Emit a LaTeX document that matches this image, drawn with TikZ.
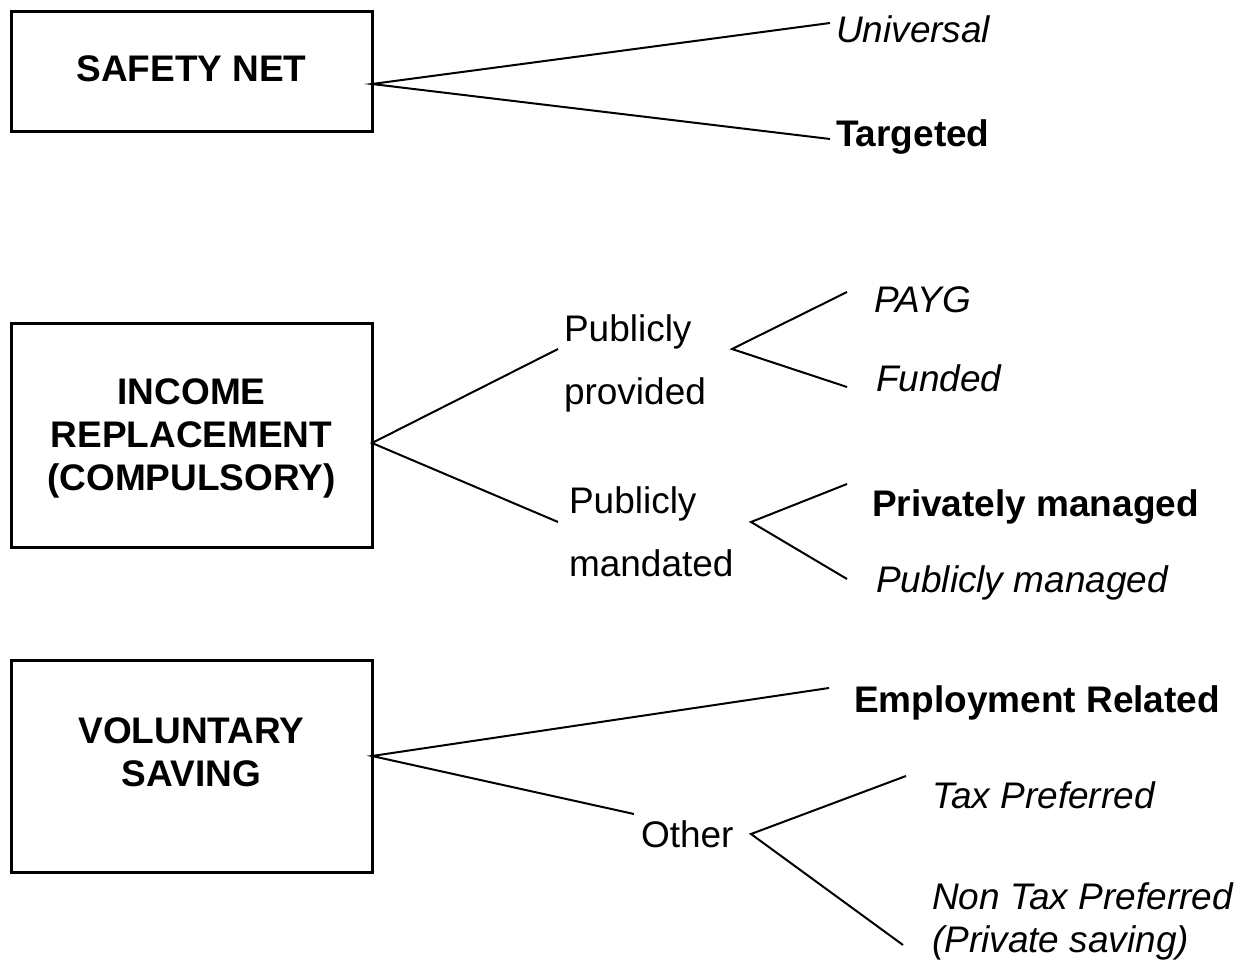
\documentclass[tikz,border=0pt]{standalone}
\usepackage{fontspec}
\setmainfont{Liberation Sans}
\usepackage{tikz}
\newcommand{\lblsize}{\fontsize{18.5}{21.5}\selectfont}

\begin{document}
\begin{tikzpicture}[x=0.5pt,y=-0.5pt,line width=1pt,
  box/.style={draw,line width=1.5pt,minimum width=180.5pt,inner sep=0pt},
  title/.style={align=center,inner sep=0pt,font=\lblsize\bfseries},
  plain/.style={anchor=base west,inner sep=0pt,align=left,font=\lblsize},
  ital/.style={plain,font=\lblsize\itshape},
  bold/.style={plain,font=\lblsize\bfseries}]
\useasboundingbox (0,0) rectangle (1254,962);

% the three boxes
\node[box,minimum height=60pt] (safety) at (191.5,72) {};
\node[title] (safetytext) at (191.5,68.5) {SAFETY NET};
\node[box,minimum height=112pt] (income) at (191.5,436) {};
\node[title] (incometext) at (191.5,438) {INCOME\\REPLACEMENT\\(COMPULSORY)};
\node[box,minimum height=105.5pt] (voluntary) at (191.5,766.5) {};
\node[title] (voluntarytext) at (191.5,752) {VOLUNTARY\\SAVING};

% labels (base is the last line of a node)
\node[ital] (universal) at (835,43) {Universal};
\node[bold] (targeted) at (835,147) {Targeted};
\node[plain] (provided) at (563,405) {Publicly\\[10pt]provided};
\node[plain] (mandated) at (568,577) {Publicly\\[10.5pt]mandated};
\node[ital] (payg) at (873,313) {PAYG};
\node[ital] (funded) at (875,392) {Funded};
\node[bold] (privman) at (871,517) {Privately managed};
\node[ital] (pubman) at (875,593) {Publicly managed};
\node[bold] (employ) at (853,712) {Employment Related};
\node[plain] (other) at (640,847) {Other};
\node[ital] (taxpref) at (931,808) {Tax Preferred};
\node[ital] (nontax) at (931,952) {Non Tax Preferred\\(Private saving)};

% fork points
\coordinate (sn) at (372,84);
\coordinate (sn1) at (830,23);
\coordinate (sn2) at (830,139);
\coordinate (ir) at (372,443);
\coordinate (ir1) at (558,349);
\coordinate (ir2) at (558,522);
\coordinate (pp) at (732,349);
\coordinate (pp1) at (847,292);
\coordinate (pp2) at (847,387);
\coordinate (pm) at (751,522);
\coordinate (pm1) at (847,484);
\coordinate (pm2) at (847,579);
\coordinate (vs) at (372,756);
\coordinate (vs1) at (829,688);
\coordinate (vs2) at (634,814);
\coordinate (ot) at (751,834);
\coordinate (ot1) at (906,776);
\coordinate (ot2) at (903,945);

% branches
\draw (sn1) -- (sn) -- (sn2);
\draw (ir1) -- (ir) -- (ir2);
\draw (pp1) -- (pp) -- (pp2);
\draw (pm1) -- (pm) -- (pm2);
\draw (vs1) -- (vs) -- (vs2);
\draw (ot1) -- (ot) -- (ot2);
\end{tikzpicture}
\end{document}
